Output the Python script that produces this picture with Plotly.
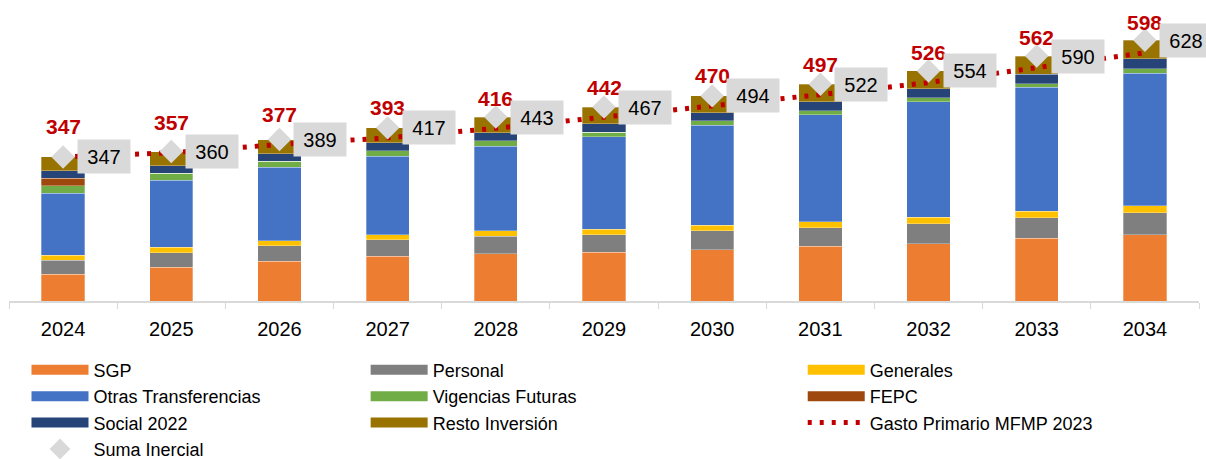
import plotly.graph_objects as go

years = ["2024", "2025", "2026", "2027", "2028", "2029", "2030", "2031", "2032", "2033", "2034"]

sgp = [64, 81, 96, 108, 114, 117, 124, 132, 138, 151, 160]
personal = [34, 35, 37, 39, 42, 42, 45, 45, 48, 49, 52]
generales = [12, 13, 12, 13, 13, 14, 14, 14, 16, 16, 17]
otras_transf = [150, 162, 177, 189, 204, 223, 240, 258, 278, 299, 320]
vigencias = [18, 17, 15, 13, 13, 11, 11, 9, 9, 8, 10]
fepc = [18, 0, 0, 0, 0, 0, 0, 0, 0, 0, 0]
social = [18, 18, 18, 19, 19, 20, 20, 22, 22, 23, 24]
resto_inv = [33, 34, 34, 36, 38, 40, 40, 42, 43, 44, 45]

gasto_mfmp = [347, 357, 377, 393, 416, 442, 470, 497, 526, 562, 598]
suma_inercial = [347, 360, 389, 417, 443, 467, 494, 522, 554, 590, 628]

# name, values, colour, legend column
components = [
    ("SGP", sgp, "#ED7D31", "legend"),
    ("Personal", personal, "#7F7F7F", "legend2"),
    ("Generales", generales, "#FFC000", "legend3"),
    ("Otras Transferencias", otras_transf, "#4472C4", "legend"),
    ("Vigencias Futuras", vigencias, "#70AD47", "legend2"),
    ("FEPC", fepc, "#9E480E", "legend3"),
    ("Social 2022", social, "#264478", "legend"),
    ("Resto Inversión", resto_inv, "#997300", "legend2"),
]

red = "#C00000"
grey_box = "#D9D9D9"
font = "Liberation Sans, Arial, sans-serif"

fig = go.Figure()

# stacked bars (legend entries come from dummy wide lines below)
for name, vals, color, leg in components:
    fig.add_trace(go.Bar(
        x=years, y=vals, name=name,
        marker=dict(color=color, line=dict(color="rgba(255,255,255,0.5)", width=0.6)),
        showlegend=False, legendgroup=name,
    ))

for name, vals, color, leg in components:
    fig.add_trace(go.Scatter(
        x=[years[0]], y=[None], mode="lines", name=name, legendgroup=name,
        line=dict(color=color, width=10), legend=leg,
    ))

fig.add_trace(go.Scatter(
    x=years, y=gasto_mfmp, mode="lines", name="Gasto Primario MFMP 2023",
    line=dict(color=red, width=5, dash="4px,8px"), legend="legend3",
))

fig.add_trace(go.Scatter(
    x=years, y=suma_inercial, mode="markers", name="Suma Inercial",
    marker=dict(symbol="diamond", size=18, color=grey_box), legend="legend",
))

for i, g in enumerate(gasto_mfmp):
    fig.add_annotation(
        x=i, y=g, text=f"<b>{g}</b>", showarrow=False, yshift=30,
        font=dict(family=font, size=21, color=red),
    )

for i, s in enumerate(suma_inercial):
    fig.add_annotation(
        x=i, y=s, text=str(s), showarrow=False, xshift=41,
        bgcolor=grey_box, width=42, height=23, borderpad=5,
        font=dict(family=font, size=20, color="black"),
    )

leg_common = dict(
    orientation="v", xanchor="left", y=-0.168, yanchor="top",
    traceorder="normal", font=dict(size=18), tracegroupgap=0, itemwidth=57,
    bgcolor="rgba(0,0,0,0)",
)

fig.update_layout(
    barmode="stack",
    bargap=0.6,
    width=1206, height=459,
    margin=dict(l=9, r=7, t=0, b=158, autoexpand=False),
    plot_bgcolor="white", paper_bgcolor="white",
    font=dict(family=font, size=18, color="black"),
    xaxis=dict(
        type="category", categoryorder="array", categoryarray=years,
        range=[-0.5, len(years) - 0.5], tickangle=0,
        showline=True, linecolor="#D9D9D9", linewidth=2,
        ticks="outside", tickson="boundaries", ticklen=6, tickcolor="#D9D9D9",
        tickfont=dict(size=20), ticklabelstandoff=9, showgrid=False,
    ),
    yaxis=dict(range=[0, 725], visible=False, showgrid=False),
    legend=dict(x=0.0147, **leg_common),
    legend2=dict(x=0.2997, **leg_common),
    legend3=dict(x=0.667, **leg_common),
)

# drop the default page margin so the figure fills the window exactly
fig.write_html(
    "out.html",
    config={"displayModeBar": False},
    post_script="document.body.style.margin='0';",
)
